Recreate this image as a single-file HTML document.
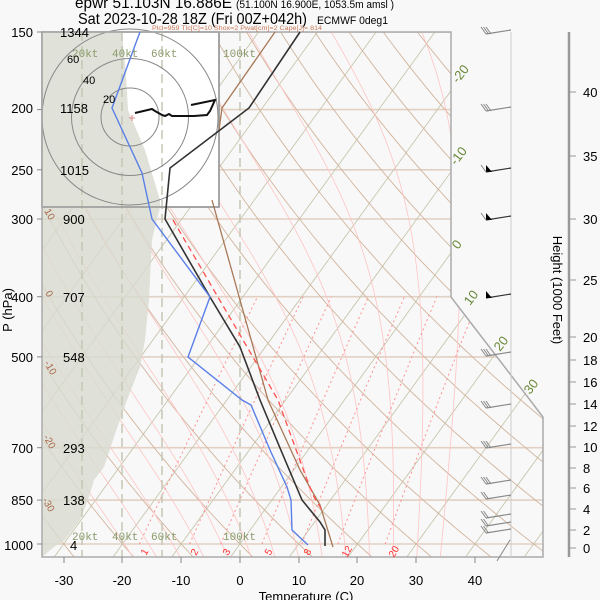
<!DOCTYPE html>
<html><head><meta charset="utf-8"><style>
html,body{margin:0;padding:0;background:#f8f8f8;}
svg{display:block;font-family:"Liberation Sans",sans-serif;}
</style></head><body>
<svg id="s" width="600" height="600" xmlns="http://www.w3.org/2000/svg">
<rect width="600" height="600" fill="#f8f8f8"/>
<defs><clipPath id="cp"><polygon points="42,32 451,32 451,297 543,417 543,557 42,557"/></clipPath></defs>
<g id="sk" clip-path="url(#cp)"></g>
<g id="fg"></g>
<text x="75" y="8" font-size="16" textLength="157" lengthAdjust="spacingAndGlyphs">epwr 51.103N 16.886E</text>
<text x="236" y="8" font-size="11" textLength="158" lengthAdjust="spacingAndGlyphs">(51.100N 16.900E, 1053.5m amsl )</text>
<text x="78" y="24" font-size="16" textLength="229" lengthAdjust="spacingAndGlyphs">Sat 2023-10-28 18Z (Fri 00Z+042h)</text>
<text x="317" y="24" font-size="11" textLength="71" lengthAdjust="spacingAndGlyphs">ECMWF 0deg1</text>
<text x="152" y="30" font-size="6.5" fill="#c87858" textLength="170" lengthAdjust="spacingAndGlyphs">Plcl=959 Tlc[C]=10 Shox=2 Pwat[cm]=2 Cape[J]= 814</text>
<g font-size="13" text-anchor="end">
<text x="33" y="37">150</text><text x="33" y="113">200</text><text x="33" y="175">250</text><text x="33" y="224">300</text><text x="33" y="302">400</text><text x="33" y="362">500</text><text x="33" y="453">700</text><text x="33" y="505">850</text><text x="33" y="550">1000</text>
</g>
<g id="tx"></g>
<g font-size="13" text-anchor="middle">
<text x="64" y="585">-30</text><text x="122" y="585">-20</text><text x="181" y="585">-10</text><text x="240" y="585">0</text><text x="299" y="585">10</text><text x="357" y="585">20</text><text x="416" y="585">30</text><text x="475" y="585">40</text>
<text x="306" y="601">Temperature (C)</text>
</g>
<text transform="translate(12,310) rotate(-90)" font-size="13" text-anchor="middle">P (hPa)</text>
<text transform="translate(553,290) rotate(90)" font-size="13" text-anchor="middle">Height (1000 Feet)</text>
<g font-size="13">
<text x="583" y="97">40</text><text x="583" y="161">35</text><text x="583" y="224">30</text><text x="583" y="285">25</text><text x="583" y="342">20</text><text x="583" y="365">18</text><text x="583" y="387">16</text><text x="583" y="409">14</text><text x="583" y="431">12</text><text x="583" y="452">10</text><text x="583" y="473">8</text><text x="583" y="493">6</text><text x="583" y="514">4</text><text x="583" y="535">2</text><text x="583" y="553">0</text>
</g>
<g font-size="13" fill="#6a8a3a">
<text transform="translate(458,84) rotate(-52)">-20</text>
<text transform="translate(456,166) rotate(-52)">-10</text>
<text transform="translate(458,250) rotate(-52)">0</text>
<text transform="translate(470,306) rotate(-52)">10</text>
<text transform="translate(500,352) rotate(-52)">20</text>
<text transform="translate(530,395) rotate(-52)">30</text>
</g>
<g font-size="10" fill="#a8684a">
<text transform="translate(44,211) rotate(60)">10</text>
<text transform="translate(45,293) rotate(60)">0</text>
<text transform="translate(44,363) rotate(60)">-10</text>
<text transform="translate(43,437) rotate(60)">-20</text>
<text transform="translate(42,500) rotate(60)">-30</text>
</g>
<g font-size="10" fill="#ff3030">
<text transform="translate(146,556) rotate(-60)">1</text>
<text transform="translate(196,556) rotate(-60)">2</text>
<text transform="translate(228,556) rotate(-60)">3</text>
<text transform="translate(270,556) rotate(-60)">5</text>
<text transform="translate(309,556) rotate(-60)">8</text>
<text transform="translate(347,558) rotate(-60)">12</text>
<text transform="translate(394,558) rotate(-60)">20</text>
</g>
<g id="hd"></g>
<g font-size="11" fill="#8a9a6a" font-family="Liberation Mono,monospace">
<text x="72" y="57">20kt</text><text x="112" y="57">40kt</text><text x="151" y="57">60kt</text><text x="223" y="57">100kt</text>
<text x="72" y="540">20kt</text><text x="112" y="540">40kt</text><text x="151" y="540">60kt</text><text x="223" y="540">100kt</text>
</g>
<g font-size="11"><text x="67" y="63">60</text><text x="83" y="84">40</text><text x="103" y="103">20</text></g>
<g font-size="13">
<text x="60" y="37">1344</text><text x="60" y="113">1158</text><text x="60" y="175">1015</text><text x="63" y="224">900</text><text x="63" y="302">707</text><text x="63" y="362">548</text><text x="63" y="453">293</text><text x="63" y="505">138</text><text x="70" y="550">4</text>
</g>
</svg>
<script>
var NS="http://www.w3.org/2000/svg";
function Y(p){return 544-269.9*Math.log(1000/p);}
function X(T,p){return 240+5.875*T+0.725*(544-Y(p));}
function el(par,tag,a){var e=document.createElementNS(NS,tag);for(var k in a)e.setAttribute(k,a[k]);document.getElementById(par).appendChild(e);return e;}
function pl(par,pts,st,w,da){var d=pts.map(function(q){return q[0].toFixed(1)+","+q[1].toFixed(1)}).join(" ");var a={points:d,fill:"none",stroke:st,"stroke-width":w};if(da)a["stroke-dasharray"]=da;return el(par,"polyline",a);}
var ps=[];for(var p=1060;p>=140;p-=10)ps.push(p);
[150,200,250,300,400,500,700,850,1000].forEach(function(p){pl("sk",[[42,Y(p)],[543,Y(p)]],"#e2d0c2",1.6);});
for(var T=-140;T<=50;T+=10){pl("sk",[[X(T,1060),Y(1060)],[X(T,140),Y(140)]],"#c8c6ae",0.9);}
for(var th=-40;th<=220;th+=10){var pts=ps.map(function(p){var T=(th+273.15)*Math.pow(p/1000,0.286)-273.15;return [X(T,p),Y(p)];});pl("sk",pts,"#d2b49c",0.9);}
function es(T){return 6.112*Math.exp(17.67*T/(T+243.5));}
for(var T0=-16;T0<=36;T0+=4){var T=T0+273.15,pts=[];for(var p=1060;p>=150;p-=2){var Tc=T-273.15;var e=es(Tc),rs=0.622*e/(p-e);var Lv=2.5e6,Rd=287,cp=1004;var dT=(Rd*T+Lv*rs)/(cp+Lv*Lv*rs*0.622/(Rd*T*T));pts.push([X(Tc,p),Y(p)]);T-= dT*Math.log(p/(p-2));}
 pl("sk",pts,"#ffc4c4",0.8);}
[1,2,3,5,8,12,20].forEach(function(w){var pts=[];for(var p=1000;p>=400;p-=10){var e=w*p/(622+w),l=Math.log(e/6.112),Td=243.5*l/(17.67-l);pts.push([X(Td,p),Y(p)]);}pl("sk",pts,"#ff9090",1,"2,3");});
el("fg","rect",{x:42,y:32,width:177,height:175,fill:"#fff",stroke:"#999","stroke-width":1.5});
el("fg","polygon",{points:"42,32 122,32 126,75 128,110 145,150 160,200 160,207 157,219 152,240 149,300 145,340 140,367 127,400 115,434 104,467 94,480 88,500 80,520 65,540 54,547 42,557",fill:"#d8dbd0","fill-opacity":0.8});
[82,122,162,240].forEach(function(x){pl("fg",[[x,32],[x,557]],"#c4c8b4",1.5,"9,5");});
[29,58.5,88].forEach(function(r){el("fg","circle",{cx:130,cy:117,r:r,fill:"none",stroke:"#888","stroke-width":1});});
el("fg","rect",{x:42,y:32,width:177,height:175,fill:"none",stroke:"#999","stroke-width":1.5});
pl("fg",[[135,113],[152,109],[155,111],[162,115],[165,116],[169,114],[172,116],[194,116],[207,115],[210,111],[215,100],[191,105]],"#111",2);
pl("fg",[[129,118],[135,118]],"#d88",1);pl("fg",[[132,115],[132,121]],"#d88",1);
pl("fg",[[42,32],[451,32],[451,297],[543,417],[543,557],[42,557],[42,32]],"#aaa",1.5);
[64,122,181,240,299,357,416,475].forEach(function(x){pl("fg",[[x,557],[x,563]],"#888",1);});
[150,200,250,300,400,500,700,850,1000].forEach(function(p){pl("fg",[[37,Y(p)],[42,Y(p)]],"#888",1);});
pl("fg",[[275,32],[222,108],[219,130]],"#a87858",1.3);
pl("fg",[[212,200],[240,300],[268,400],[300,470],[320,505],[333,547]],"#a87858",1.3);
pl("fg",[[173,220],[278,400],[306,477],[314,497],[322,510]],"#ff5050",1.3,"6,4");
pl("fg",[[300,32],[249,108],[170,168],[165,219],[210,297],[240,347],[260,400],[280,448],[302,500],[320,522],[325,530],[325,546]],"#333",1.6);
pl("fg",[[140,32],[137,40],[112,108],[142,173],[152,219],[210,297],[188,357],[242,400],[251,405],[270,450],[287,487],[291,500],[292,530],[308,545]],"#5a7fe8",1.4);
pl("fg",[[569,32],[569,557]],"#999",2.5);
[92,156,219,280,337,360,382,404,426,447,468,488,509,530,548].forEach(function(y){pl("fg",[[569,y],[576,y]],"#999",1);});
pl("fg",[[511,32],[511,557]],"#ccc",1);
var barbs=[[33,3,0],[110,3,0],[171,1,1],[219,1,1],[297,0,1],[355,3,0],[407,3,0],[447,3,0],[483,3,0],[498,2,0],[517,2,0],[525,2,0],[532,2,0]];
barbs.forEach(function(b){var y=b[0];pl("fg",[[511,y-3],[486,y+1]],b[2]?"#333":"#888",1.2);
 if(b[2]){el("fg","polygon",{points:(486)+","+(y+1)+" "+(486)+","+(y-6)+" "+(492)+","+(y+1),fill:"#000"});}
 for(var i=0;i<b[1];i++){pl("fg",[[486+i*2.5,y+1],[481+i*2.5,y-6]],"#888",1);}
});
pl("fg",[[510,540],[497,561]],"#888",1);
</script>
</body></html>
